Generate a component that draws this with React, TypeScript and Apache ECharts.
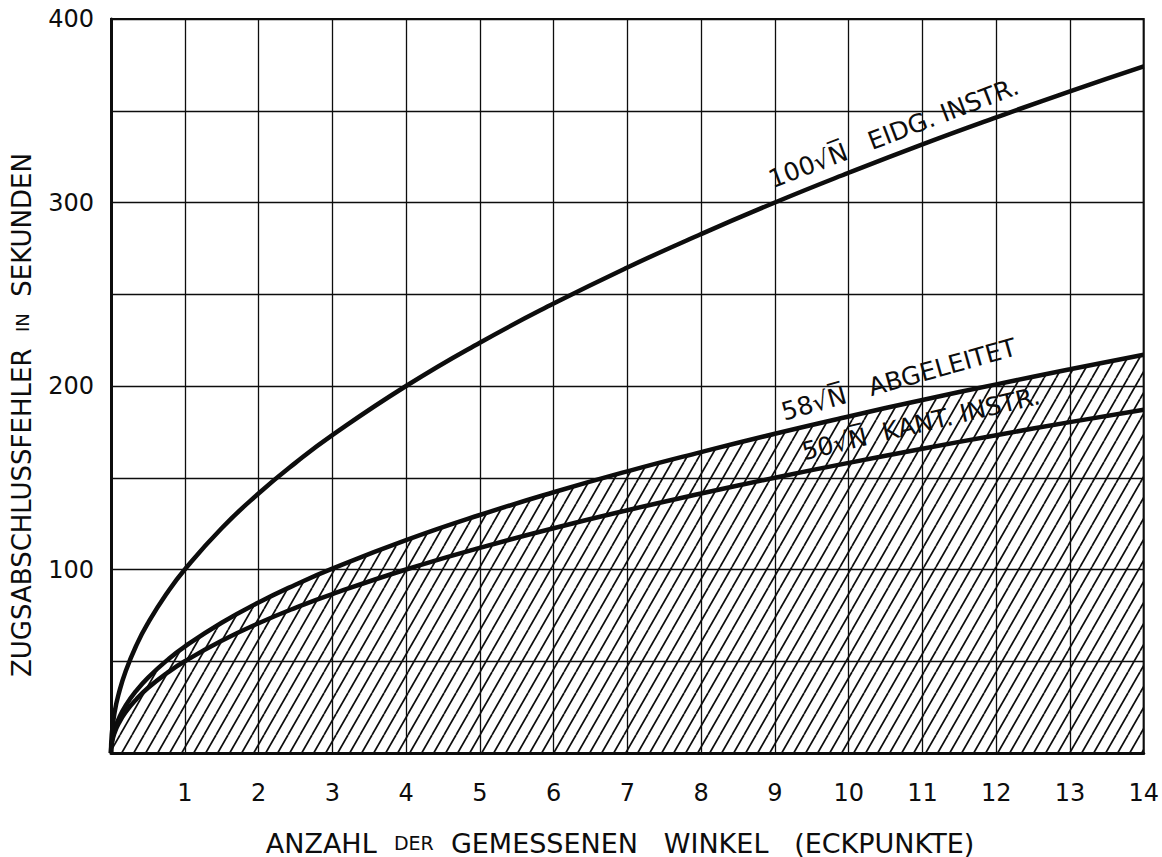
import React, { useEffect, useRef } from "react";
import * as echarts from "echarts";

// N values (number of measured angles) at which the curves were read
const N_VALUES = [0, 0.01, 0.05, 0.1, 0.2, 0.35, 0.5, 0.75, 1, 1.5, 2, 2.5, 3, 4, 5, 6, 7, 8, 9, 10, 11, 12, 13, 14];
// 100 √N  Eidg. Instr.
const EIDG = [0, 10, 22.4, 31.6, 44.7, 59.2, 70.7, 86.6, 100, 122.5, 141.4, 158.1, 173.2, 200, 223.6, 244.9, 264.6, 282.8, 300, 316.2, 331.7, 346.4, 360.6, 374.2];
// 58 √N  abgeleitet
const ABGELEITET = [0, 5.8, 13.0, 18.3, 25.9, 34.3, 41.0, 50.2, 58, 71.0, 82.0, 91.7, 100.5, 116, 129.7, 142.1, 153.5, 164.0, 174, 183.4, 192.4, 200.9, 209.1, 217.0];
// 50 √N  Kant. Instr.
const KANT = [0, 5, 11.2, 15.8, 22.4, 29.6, 35.4, 43.3, 50, 61.2, 70.7, 79.1, 86.6, 100, 111.8, 122.5, 132.3, 141.4, 150, 158.1, 165.8, 173.2, 180.3, 187.1];

const X_TICK_LABELS = [1, 2, 3, 4, 5, 6, 7, 8, 9, 10, 11, 12, 13, 14];
const Y_TICK_LABELS = [100, 200, 300, 400];

const CURVE_LABELS = [
  { text: "100√N̅   EIDG. INSTR.", n: 10.61, v: 338, angle: 21 },
  { text: "58√N̅   ABGELEITET", n: 10.68, v: 203.5, angle: 15.7 },
  { text: "50√N̅  KANT. INSTR.", n: 10.98, v: 179.5, angle: 13.4 },
];

const FONT = "DejaVu Sans";
const INK = "#0d0d0d";

function makeHatch(): HTMLCanvasElement {
  const c = document.createElement("canvas");
  c.width = 12;
  c.height = 21;
  const ctx = c.getContext("2d")!;
  ctx.strokeStyle = INK;
  ctx.lineWidth = 1.7;
  for (const o of [-12, 0, 12]) {
    ctx.beginPath();
    ctx.moveTo(o, 21);
    ctx.lineTo(o + 12, 0);
    ctx.stroke();
  }
  return c;
}

const pairs = (ys: number[]) => ys.map((y, i) => [N_VALUES[i], y]);

export default function App() {
  const ref = useRef<HTMLDivElement>(null);
  useEffect(() => {
    if (!ref.current) return;
    const chart = echarts.init(ref.current, null, { renderer: "svg" });
    const hatch = makeHatch();
    const lineStyle = { color: INK, width: 4.5 };
    chart.setOption({
      animation: false,
      backgroundColor: "#fff",
      grid: {
        left: 111,
        top: 19,
        right: 17,
        bottom: 104,
        show: true,
        borderColor: INK,
        borderWidth: 2,
      },
      xAxis: {
        type: "value",
        min: 0,
        max: 14,
        interval: 1,
        axisLine: { show: true, lineStyle: { color: INK, width: 3 } },
        axisTick: { show: false },
        splitLine: { show: true, lineStyle: { color: INK, width: 1.3 } },
        axisLabel: {
          margin: 28,
          fontFamily: FONT,
          fontSize: 24,
          color: INK,
          formatter: (v: number) => (X_TICK_LABELS.includes(v) ? String(v) : ""),
        },
      },
      yAxis: {
        type: "value",
        min: 0,
        max: 400,
        interval: 50,
        axisLine: { show: true, lineStyle: { color: INK, width: 3 } },
        axisTick: { show: false },
        splitLine: { show: true, lineStyle: { color: INK, width: 1.3 } },
        axisLabel: {
          margin: 17,
          fontFamily: FONT,
          fontSize: 24,
          color: INK,
          formatter: (v: number) => (Y_TICK_LABELS.includes(v) ? String(v) : ""),
        },
      },
      series: [
        {
          type: "line",
          name: "58√N abgeleitet",
          data: pairs(ABGELEITET),
          smooth: true,
          showSymbol: false,
          lineStyle,
          areaStyle: { color: { image: hatch, repeat: "repeat" }, opacity: 1, origin: "start" },
          z: 3,
        },
        {
          type: "line",
          name: "50√N Kant. Instr.",
          data: pairs(KANT),
          smooth: true,
          showSymbol: false,
          lineStyle,
          z: 4,
        },
        {
          type: "line",
          name: "100√N Eidg. Instr.",
          data: pairs(EIDG),
          smooth: true,
          showSymbol: false,
          lineStyle,
          z: 4,
        },
      ],
    });

    const labelGraphics = CURVE_LABELS.map((l) => {
      const p = chart.convertToPixel({ gridIndex: 0 }, [l.n, l.v]) as number[];
      return {
        type: "text",
        x: p[0],
        y: p[1],
        rotation: (l.angle * Math.PI) / 180,
        z: 10,
        style: {
          text: l.text,
          font: `25px "${FONT}"`,
          fill: INK,
          align: "center",
          verticalAlign: "middle",
        },
      };
    });

    chart.setOption({
      graphic: [
        ...labelGraphics,
        {
          type: "text",
          x: 620,
          y: 843,
          z: 10,
          style: {
            text: "{a|ANZAHL  }{s|DER}{a|  GEMESSENEN   WINKEL   (ECKPUNKTE)}",
            align: "center",
            verticalAlign: "middle",
            rich: {
              a: { fontFamily: FONT, fontSize: 27, fill: INK, color: INK },
              s: { fontFamily: FONT, fontSize: 19, fill: INK, color: INK },
            },
          },
        },
        {
          type: "text",
          x: 22,
          y: 415,
          rotation: Math.PI / 2,
          z: 10,
          style: {
            text: "{a|ZUGSABSCHLUSSFEHLER  }{s|IN}{a|  SEKUNDEN}",
            align: "center",
            verticalAlign: "middle",
            rich: {
              a: { fontFamily: FONT, fontSize: 26, fill: INK, color: INK },
              s: { fontFamily: FONT, fontSize: 18, fill: INK, color: INK },
            },
          },
        },
      ],
    });

    return () => chart.dispose();
  }, []);
  return (
    <div
      ref={ref}
      style={{ position: "fixed", left: 0, top: 0, width: "1162px", height: "857px", background: "#fff" }}
    />
  );
}
